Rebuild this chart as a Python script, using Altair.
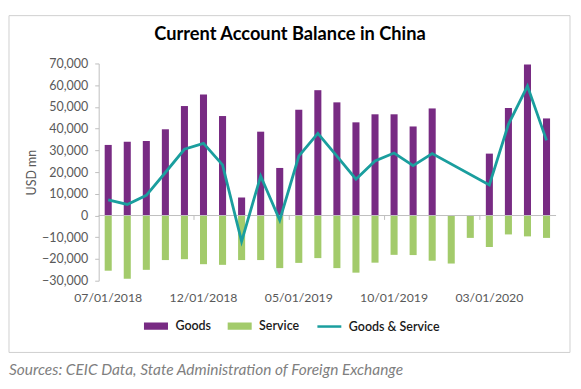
import altair as alt
import pandas as pd

months = ["07/01/2018", "08/01/2018", "09/01/2018", "10/01/2018", "11/01/2018", "12/01/2018",
          "01/01/2019", "02/01/2019", "03/01/2019", "04/01/2019", "05/01/2019", "06/01/2019",
          "07/01/2019", "08/01/2019", "09/01/2019", "10/01/2019", "11/01/2019", "12/01/2019",
          "01/01/2020", "02/01/2020", "03/01/2020", "04/01/2020", "05/01/2020", "06/01/2020"]
goods = [32500, 34000, 34300, 39700, 50400, 55700, 45800, 8300, 38600, 21900, 48700, 57700,
         52100, 42900, 46600, 46600, 41000, 49300, None, None, 28500, 49500, 69500, 44700]
service = [-25400, -29100, -25000, -20500, -20100, -22400, -22700, -20500, -20500, -24200, -21800, -19600,
           -24200, -26300, -21700, -18100, -18200, -20800, -22100, -10300, -14500, -8700, -9600, -10300]
goods_service = [7200, 5100, 9300, 19800, 30500, 33200, 23300, -11900, 18200, -2100, 27300, 37800,
                 27300, 16700, 25100, 28800, 23000, 28500, None, None, 14100, 42000, 59600, 34600]
tick_labels = ["07/01/2018", "12/01/2018", "05/01/2019", "10/01/2019", "03/01/2020"]
y_ticks = [-30000, -20000, -10000, 0, 10000, 20000, 30000, 40000, 50000, 60000, 70000]
series_names = ["Goods", "Service", "Goods & Service"]
series_colors = ["#782B83", "#A3CB6B", "#1A9E9E"]
title_text = "Current Account Balance in China"
source_text = "Sources: CEIC Data, State Administration of Foreign Exchange"

FONT = "Lato"
W, H = 459, 218

rows = []
for m, g, s in zip(months, goods, service):
    if g is not None:
        rows.append({"month": m, "series": "Goods", "value": g})
    rows.append({"month": m, "series": "Service", "value": s})
bars_df = pd.DataFrame(rows)
line_df = pd.DataFrame([{"month": m, "value": v} for m, v in zip(months, goods_service) if v is not None])
legend_df = pd.DataFrame({"series": series_names, "month": [months[0]] * 3, "value": [0] * 3})
cat_ticks_df = pd.DataFrame({"month": tick_labels[1:], "value": [0] * 4})

xscale = alt.Scale(domain=months, paddingInner=0.63, paddingOuter=0.315)
yscale = alt.Scale(domain=[-30000, 70000], nice=False, zero=False)

x_axis = alt.Axis(values=tick_labels, labelAngle=0, domain=False, ticks=False, grid=False,
                  labelPadding=11, labelFont=FONT, labelFontSize=12.3, labelColor="#595959",
                  labelOverlap=False)
y_axis = alt.Axis(values=y_ticks, format=",.0f", grid=False, labelOverlap=False,
                  domainColor="#BFBFBF", tickColor="#BFBFBF", tickSize=4, labelPadding=7,
                  labelFont=FONT, labelFontSize=12.5, labelColor="#595959",
                  titleFont=FONT, titleFontSize=12.5, titleColor="#595959",
                  titleFontWeight="normal", titlePadding=3)

bars = alt.Chart(bars_df).mark_bar().encode(
    x=alt.X("month:N", scale=xscale, sort=months, title=None, axis=x_axis),
    y=alt.Y("value:Q", scale=yscale, stack=None, title="USD mn", axis=y_axis),
    color=alt.Color("series:N", scale=alt.Scale(domain=["Goods", "Service"], range=series_colors[:2]), legend=None),
)

zero = alt.Chart(pd.DataFrame({"value": [0]})).mark_rule(color="#BFBFBF", strokeWidth=1).encode(
    y=alt.Y("value:Q", scale=yscale, title="USD mn", axis=y_axis)
)
cat_ticks = alt.Chart(cat_ticks_df).mark_rule(color="#BFBFBF", strokeWidth=1, xOffset=-6).encode(
    x=alt.X("month:N", scale=xscale, sort=months, bandPosition=0, title=None, axis=x_axis),
    y=alt.Y("value:Q", scale=yscale, title="USD mn", axis=y_axis),
    y2=alt.value(157),
)

line = alt.Chart(line_df).mark_line(color=series_colors[2], strokeWidth=2.8).encode(
    x=alt.X("month:N", scale=xscale, sort=months, title=None, axis=x_axis),
    y=alt.Y("value:Q", scale=yscale, title="USD mn", axis=y_axis),
)

leg = alt.Legend(title=None, orient="none", legendX=44, legendY=250, direction="horizontal", columns=3,
                 symbolSize=576, symbolStrokeWidth=2.5, symbolOpacity=1, labelFont=FONT, labelFontSize=12.5,
                 labelFontWeight=600, labelColor="#1a1a1a", labelOffset=6, columnPadding=12)
shape_range = ["M-0.9,-0.2H0.9V0.2H-0.9Z", "M-0.9,-0.2H0.9V0.2H-0.9Z", "M-1,0H1"]
legend_layer = alt.Chart(legend_df).mark_point(filled=True, size=0).encode(
    x=alt.X("month:N", scale=xscale, sort=months, title=None, axis=x_axis),
    y=alt.Y("value:Q", scale=yscale, title="USD mn", axis=y_axis),
    fill=alt.Fill("series:N", scale=alt.Scale(domain=series_names, range=series_colors), sort=series_names, legend=leg),
    stroke=alt.Stroke("series:N", scale=alt.Scale(domain=series_names, range=series_colors), sort=series_names, legend=leg),
    shape=alt.Shape("series:N", scale=alt.Scale(domain=series_names, range=shape_range), sort=series_names, legend=leg),
)

border = alt.Chart(pd.DataFrame({"k": [0]})).mark_rect(filled=False, color="#D0D0D0", strokeWidth=1).encode(
    x=alt.value(-90), x2=alt.value(473), y=alt.value(-48), y2=alt.value(290)
)
title = alt.Chart(pd.DataFrame({"t": [title_text]})).mark_text(
    font=FONT, fontSize=18.3, fontWeight="bold", color="#000000", baseline="middle", align="center"
).encode(x=alt.value(192), y=alt.value(-29), text="t:N")
source = alt.Chart(pd.DataFrame({"t": [source_text]})).mark_text(
    font=FONT, fontSize=15.5, fontStyle="italic", color="#7F7F7F", baseline="middle", align="left"
).encode(x=alt.value(-90), y=alt.value(308), text="t:N")

chart = alt.layer(bars, border, zero, cat_ticks, line, legend_layer, title, source).properties(
    width=W, height=H, padding={"left": 0, "top": 6, "right": 2, "bottom": 4}
).configure_view(stroke=None).resolve_scale(color="independent")

chart.save("out.html", embed_options={"renderer": "svg", "actions": False})
